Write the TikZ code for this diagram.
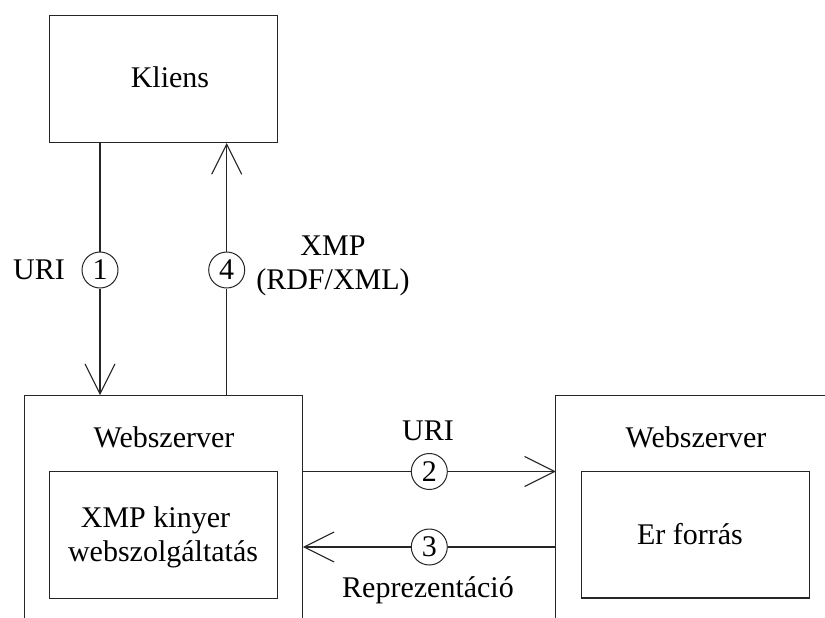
\documentclass[tikz,border=0pt]{standalone}
\usepackage{fontspec}
\setmainfont{Liberation Serif}
\usetikzlibrary{arrows.meta}

\begin{document}
\begin{tikzpicture}[x=1pt,y=-1pt,
  every node/.style={font=\fontsize{30}{34}\selectfont, inner sep=0pt},
  frame/.style={draw=black!85, line width=1.1pt},
  box/.style={frame, rectangle},
  hidden/.style={rectangle},
  num/.style={circle, draw=black!85, line width=1pt, fill=white, minimum size=36pt},
  flow/.style={draw=black!85, line width=1.1pt, -{Straight Barb[length=30pt,width=30pt]}},
]
\useasboundingbox (0,0) rectangle (825,618);

% client box
\node[box, minimum width=228pt, minimum height=127pt] (kliens) at (163.5,79) {};
\node (klienstxt) at (170,77) {Kliens};

% left web server (open at the bottom)
\node[hidden, minimum width=278.4pt, minimum height=222.7pt] (wsL) at (163.5,506.65) {};
\draw[frame] (wsL.south west) -- (wsL.north west) -- (wsL.north east) -- (wsL.south east);
\node (wsLtxt) at (164,437) {Webszerver};
\node[box, minimum width=228pt, minimum height=127pt] (xmp) at (163.3,534.8) {};
\node[align=center] (xmptxt) at (163,537) {XMP kinyer\hspace*{0.5em}\\webszolgáltatás};

% right web server (open at the bottom and right)
\node[hidden, minimum width=269pt, minimum height=222pt] (wsR) at (690.5,507) {};
\draw[frame] (wsR.south west) -- (wsR.north west) -- (wsR.north east);
\node (wsRtxt) at (696,437) {Webszerver};
\node[box, minimum width=228pt, minimum height=126.3pt] (res) at (695.3,534.85) {};
\node (restxt) at (690,534) {Er forrás};

% step numbers
\node[num] (c1) at (100,270) {1};
\node[num] (c4) at (226.7,270) {4};
\node[num] (c2) at (429.3,471.5) {2};
\node[num] (c3) at (429.3,547) {3};

% request / response arrows
\draw[flow] (kliens.south -| c1) -- (c1) -- (wsL.north -| c1);
\draw[flow] (wsL.north -| c4) -- (c4) -- (kliens.south -| c4);
\draw[flow] (wsL.east |- c2) -- (c2) -- (wsR.west |- c2);
\draw[flow] (wsR.west |- c3) -- (c3) -- (wsL.east |- c3);

% arrow labels
\node (uri1) at (39,270) {URI};
\node[align=center] (xmplbl) at (333,266) {XMP\\(RDF/XML)};
\node (uri2) at (428,431) {URI};
\node (repr) at (428,590) {Reprezentáció};
\end{tikzpicture}
\end{document}
